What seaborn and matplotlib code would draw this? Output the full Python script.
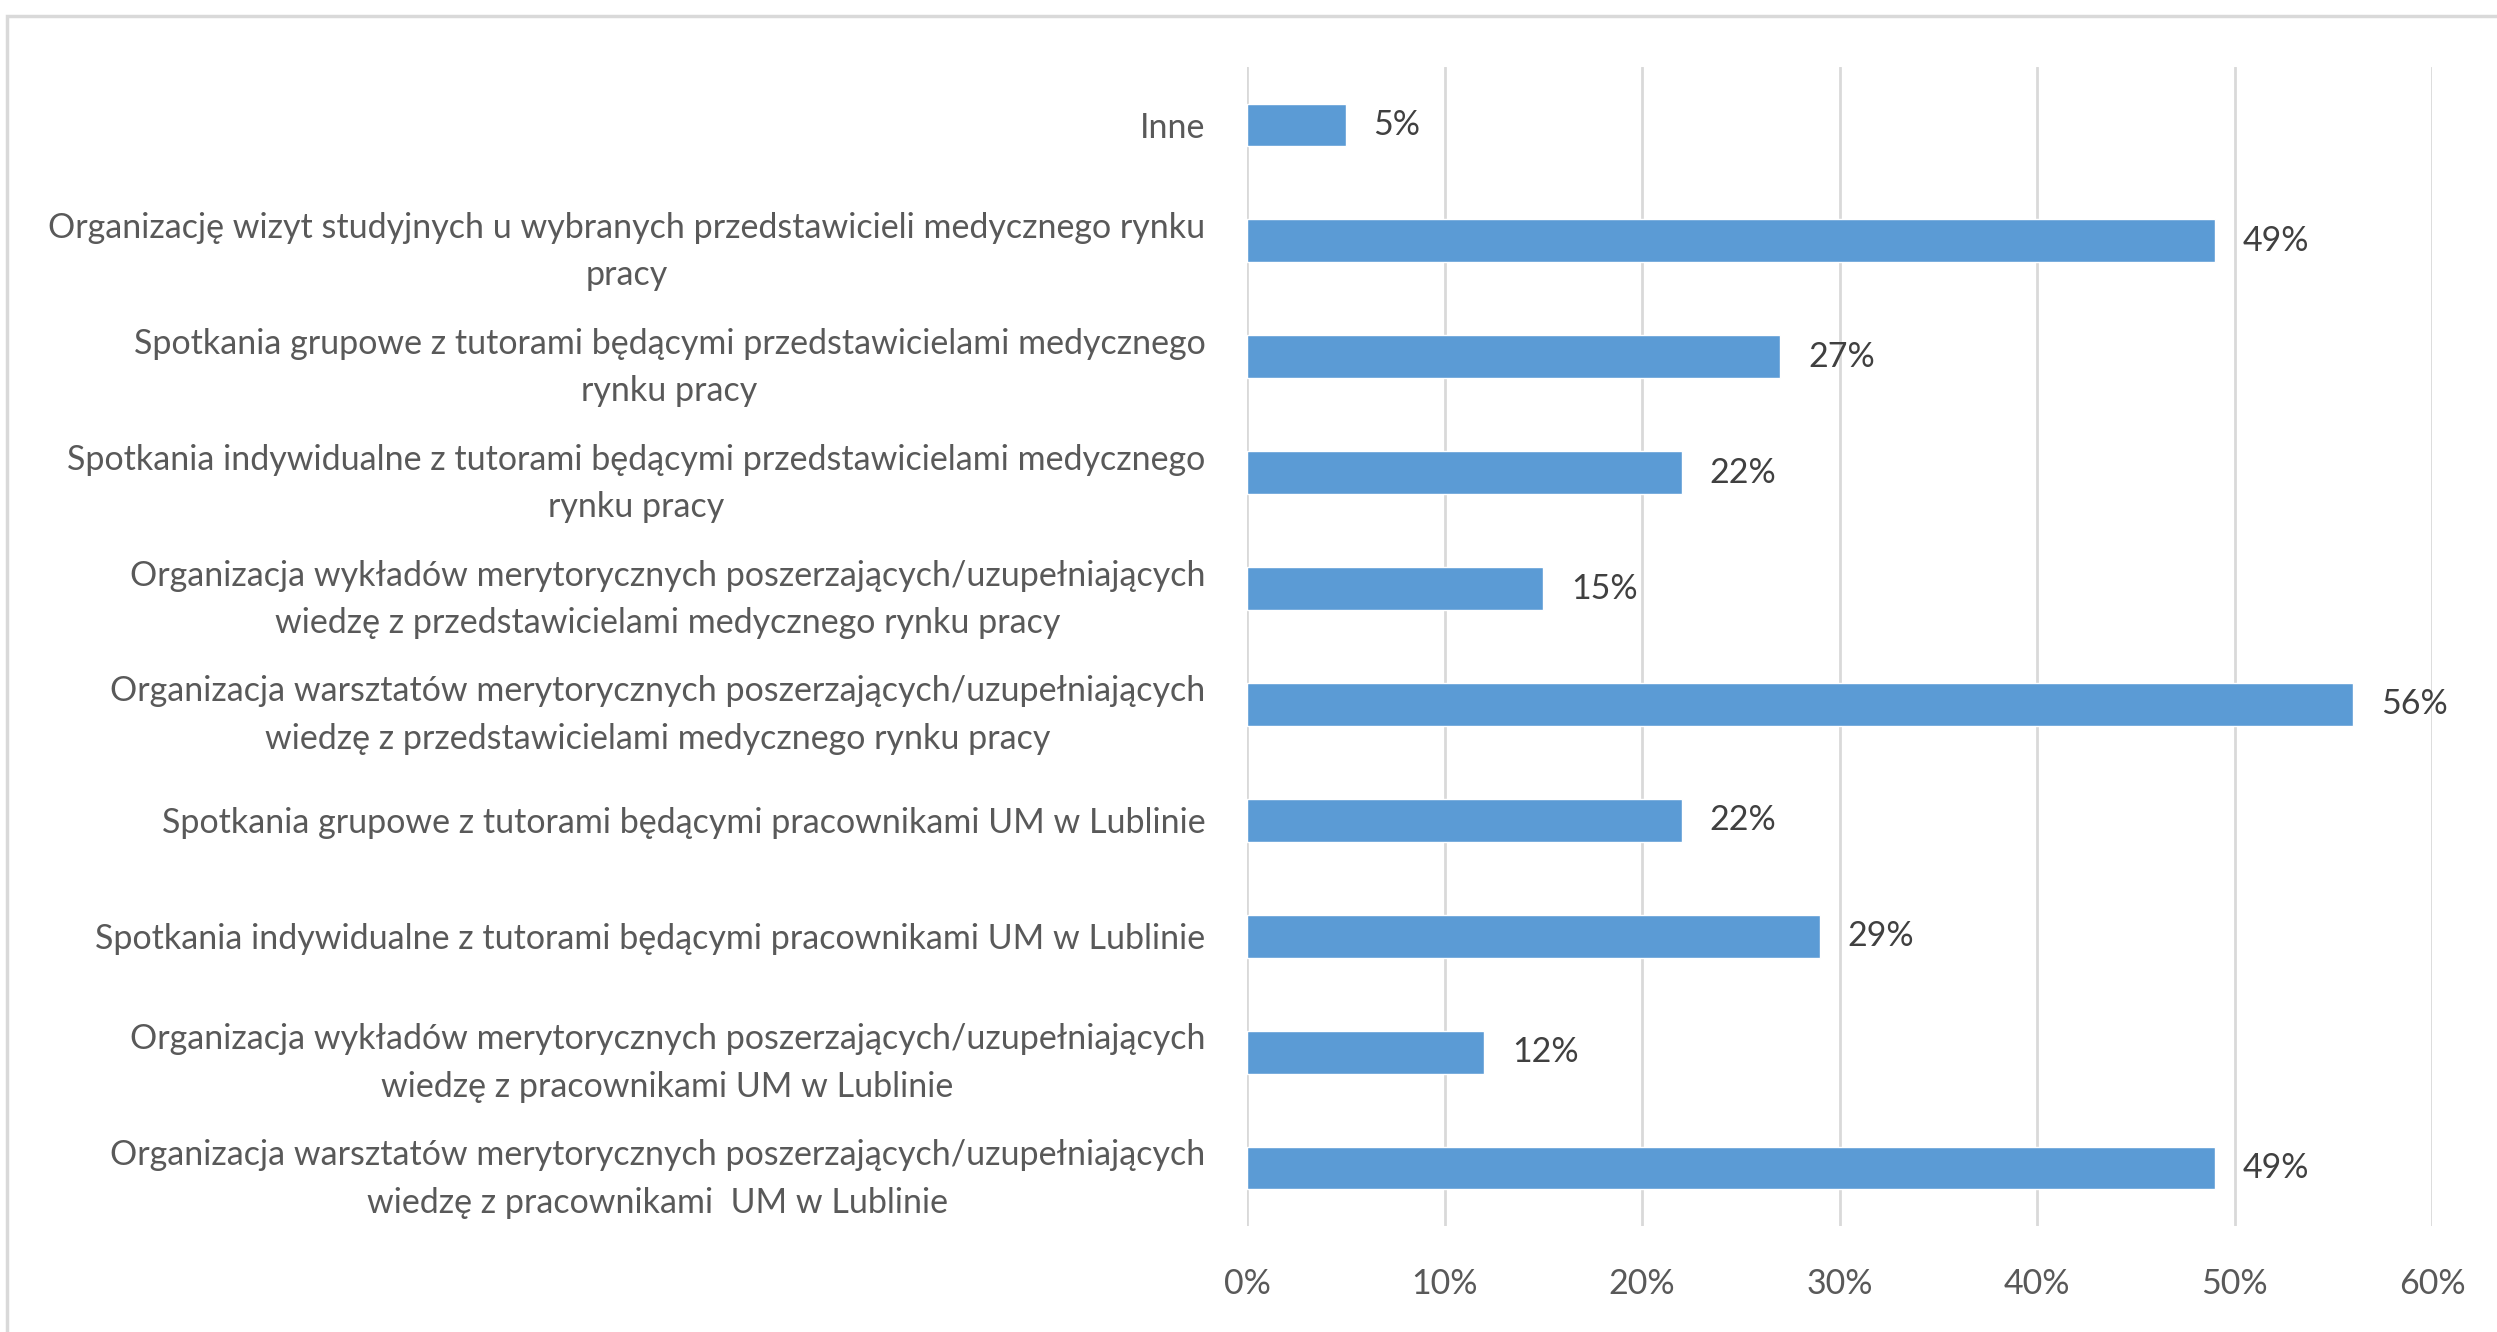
import matplotlib
matplotlib.use("Agg")
import matplotlib.pyplot as plt
import seaborn as sns
import pandas as pd
from matplotlib.patches import Rectangle
from matplotlib.ticker import PercentFormatter

# === Data ===
categories = [
    "Inne",
    "Organizację wizyt studyjnych u wybranych przedstawicieli medycznego rynku\npracy",
    "Spotkania grupowe z tutorami będącymi przedstawicielami medycznego\nrynku pracy",
    "Spotkania indywidualne z tutorami będącymi przedstawicielami medycznego\nrynku pracy",
    "Organizacja wykładów merytorycznych poszerzających/uzupełniających\nwiedzę z przedstawicielami medycznego rynku pracy",
    "Organizacja warsztatów merytorycznych poszerzających/uzupełniających\nwiedzę z przedstawicielami medycznego rynku pracy",
    "Spotkania grupowe z tutorami będącymi pracownikami UM w Lublinie",
    "Spotkania indywidualne z tutorami będącymi pracownikami UM w Lublinie",
    "Organizacja wykładów merytorycznych poszerzających/uzupełniających\nwiedzę z pracownikami UM w Lublinie",
    "Organizacja warsztatów merytorycznych poszerzających/uzupełniających\nwiedzę z pracownikami  UM w Lublinie",
]
values = [5, 49, 27, 22, 15, 56, 22, 29, 12, 49]
x_ticks = [0, 10, 20, 30, 40, 50, 60]

df = pd.DataFrame({"kategoria": categories, "procent": values})

bar_color = "#5B9BD5"
grid_color = "#D9D9D9"
label_color = "#595959"
value_color = "#404040"

sns.set_theme(style="white")
plt.rcParams['font.family'] = ['Lato', 'DejaVu Sans']

fig = plt.figure(figsize=(24.97, 13.32), dpi=100)
ax = fig.add_axes([0.4994, 0.0796, 0.4746, 0.8701])

sns.barplot(data=df, x="procent", y="kategoria", orient="h",
            color=bar_color, width=0.37, saturation=1, ax=ax)

ax.set_xlim(0, 60)
ax.set_ylim(9.5, -0.5)
ax.set_xticks(x_ticks)
ax.xaxis.set_major_formatter(PercentFormatter(decimals=0))
ax.set_xlabel("")
ax.set_ylabel("")

# gridlines
ax.grid(axis="x", color=grid_color, linewidth=2)
ax.set_axisbelow(True)
for s in ax.spines.values():
    s.set_visible(False)

ax.tick_params(axis="both", length=0, labelsize=24.5, colors=label_color)
ax.tick_params(axis="y", pad=30)
ax.tick_params(axis="x", pad=30)
for lbl in ax.get_yticklabels():
    lbl.set_multialignment("center")
    lbl.set_linespacing(1.6)

# value labels
ax.bar_label(ax.containers[0], labels=[f"{v}%" for v in values],
             padding=20, fontsize=24.5, color=value_color)

# outer chart frame
fig.patches.append(Rectangle((7 / 2497, -0.05), 1.2, 1 - 16 / 1332 + 0.05,
                             transform=fig.transFigure, fill=False,
                             edgecolor=grid_color, linewidth=2.5))

fig.savefig("out.png", dpi=100, facecolor="white")
